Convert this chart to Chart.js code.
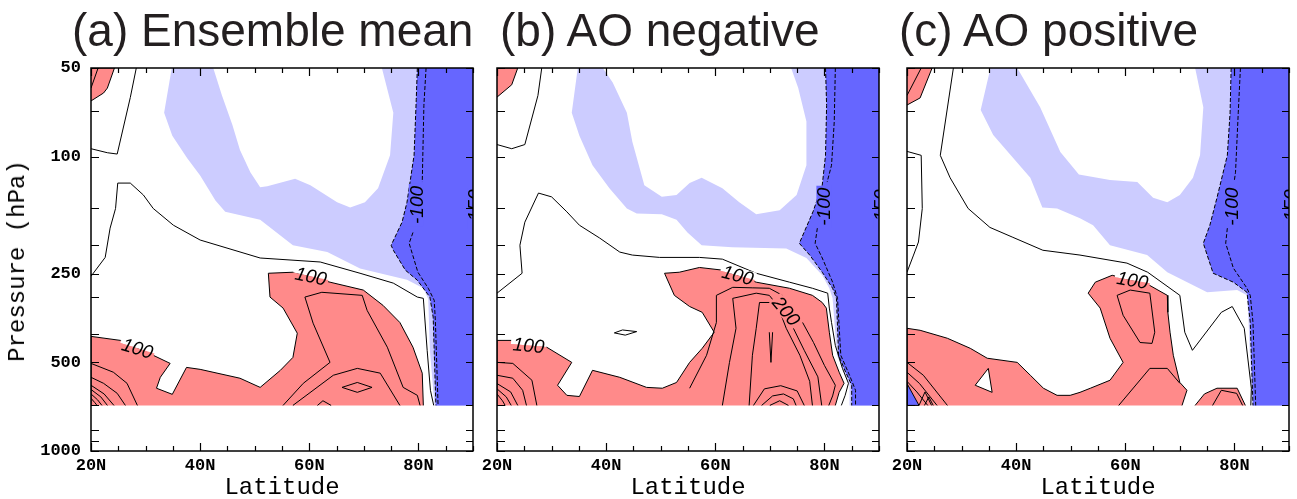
<!DOCTYPE html>
<html><head><meta charset="utf-8">
<script src="https://cdn.jsdelivr.net/npm/chart.js@4/dist/chart.umd.min.js"></script>
<style>
html,body{margin:0;padding:0;background:#fff;overflow:hidden;}
#wrap{position:relative;width:1297px;height:499px;overflow:hidden;}
canvas{position:absolute;top:0;}
.title{position:absolute;top:7px;font-family:"Liberation Sans",Arial,sans-serif;font-size:46px;line-height:46px;color:#231f20;white-space:nowrap;}
.xt{position:absolute;top:476px;font-family:"Liberation Mono",monospace;font-size:24px;line-height:24px;white-space:nowrap;transform:translateX(-50%);}
.yt{position:absolute;left:18px;top:261px;font-family:"Liberation Mono",monospace;font-size:24px;line-height:24px;white-space:nowrap;transform:translate(-50%,-50%) rotate(-90deg);}
</style></head>
<body>
<div id="wrap">
<canvas id="ca" width="485" height="499" style="left:0px"></canvas>
<canvas id="cb" width="485" height="499" style="left:406px"></canvas>
<canvas id="cc" width="481" height="499" style="left:816px"></canvas>
<div class="title" style="left:72px">(a) Ensemble mean</div>
<div class="title" style="left:500px">(b) AO negative</div>
<div class="title" style="left:899px">(c) AO positive</div>
<div class="xt" style="left:282px">Latitude</div>
<div class="xt" style="left:688px">Latitude</div>
<div class="xt" style="left:1098px">Latitude</div>
<div class="yt">Pressure (hPa)</div>
</div>
<script>
// ---------- axes ----------
const latTicks = [20, 40, 60, 80];
const latTickLabels = ['20N', '40N', '60N', '80N'];
const pTicks = [50, 70, 100, 150, 200, 250, 300, 400, 500, 700, 850, 925, 1000];
const pTickLabels = [50, 100, 250, 500, 1000];

// ---------- panel (a) Ensemble mean : [lat, hPa] ----------
const aRedTop = [[20,50],[24.3,50],[23.0,58.5],[22.3,60.8],[20,64.7]];
const aRedTopIn = [[20,58.5],[21.3,50]];
const aRedLow = [[20,700],[20,408],[25.4,421],[31.4,473],[34.5,504],[32.7,562],[32,612],[34.9,642],[37.5,520],[40,528],[47.3,566],[51,608],[54.7,532],[57,481],[57.8,398],[55.2,327],[52.8,300],[52.5,249],[57,247],[63.8,267],[69.9,284],[73.5,320],[76.6,366],[79,444],[80.7,544],[80.9,700]];
const aLightBlue = [[34.8,50],[33.4,71],[34.9,85],[37.6,101],[40,116],[42.8,141],[44.6,154],[51,164],[57,200],[63.3,211],[69.3,240],[77.9,262],[80.9,280],[81.8,305],[82.1,455],[82.95,700],[90,700],[90,50],[73.3,50],[75.4,71],[74.8,99],[72.6,128],[70.2,143],[67.5,149],[65.1,143],[60.2,125],[57.4,119],[52.3,126],[51,127],[49.2,113],[47.3,95],[45.9,78],[44,62],[42.4,50]];
const aDash1 = [[79.8,50],[79.6,64],[79.2,99],[77.9,143],[77,167],[75,200],[75.4,208],[77.6,243],[79.8,263],[82.1,300],[82.7,351],[83.2,700]];
const aDash2a = [[81.4,50],[81,67],[80.7,122]];
const aDash2b = [[79,181],[78.3,197],[79.9,247],[81.8,280],[82.9,308],[83.1,360],[83.6,700]];
const aLine1 = [[20,94],[23,97],[24.8,98],[27.2,63],[28.3,50]];
const aLine2 = [[20,255],[22.6,220],[23.5,175],[24.5,150],[24.9,123],[27.2,123],[29.6,135],[31.4,150],[35.1,171],[40,192],[51,221],[62,228],[69.3,249],[75.4,269],[79.8,300],[80.9,303],[81.6,455],[82.2,622],[82.8,700]];
const aIn1 = [[55.2,700],[58.9,589],[63.8,500],[60.7,368],[59.2,300],[62.3,289],[69.7,296],[70.6,333],[74.3,444],[77.2,608],[79.8,647],[80.3,700]];
const aIn2 = [[57,700],[64.4,553],[68.8,524],[73,544],[76.6,700]];
const aIn3 = [[66,608],[68.8,585],[71.5,608],[68.8,632],[66,608]];
const aIn4 = [[61.5,700],[62.5,675],[64,700]];
const aFan1 = [[20,504],[24.1,540],[26.6,589],[28.5,700]];
const aFan2 = [[20,562],[22.3,589],[24.8,637],[26.3,700]];
const aFan3 = [[20,598],[22.4,640],[24.2,700]];
const aFan4 = [[20,618],[21.8,655],[23,700]];
const aFan5 = [[20,640],[21.2,670],[22,700]];
const aFan6 = [[20,662],[20.7,685],[21.1,700]];
const aLabels = [
  {t:'100', x:28.5, y:448, r:17, bg:'split'},
  {t:'100', x:60.3, y:255, r:12, bg:'split'},
  {t:'-100', x:79.6, y:146, r:-90, bg:'dark'},
  {t:'-150', x:90.4, y:150, r:-90, bg:'dark'}
];

// ---------- panel (b) AO negative ----------
const bRedTop = [[20,50],[23.8,50],[22.7,57],[20,62.8]];
const bRed = [[20,700],[20,421],[22.9,421],[29.1,444],[33.7,500],[31.1,598],[32.8,647],[35.1,653],[37.5,532],[42.5,562],[47.4,608],[50.3,612],[52.9,585],[55.3,500],[57.6,448],[59.8,395],[57.6,338],[55.3,323],[52.5,296],[50.7,249],[53.4,247],[57.1,238],[61.3,243],[67.5,267],[73.6,280],[77.8,296],[79.6,313],[80.35,327],[80.9,395],[81.5,473],[82.7,540],[83.6,589],[82.7,632],[82,700]];
const bLightBlue = [[34.8,50],[33.7,71],[35.1,85],[37.5,107],[40.6,128],[43.8,150],[45.6,156],[50.2,157],[52.9,164],[54.9,181],[57.1,197],[57.5,200],[63.1,203],[73,205],[76.7,221],[79.6,253],[80.9,280],[81.5,303],[82.3,473],[83.6,540],[84.6,598],[84.6,700],[90,700],[90,50],[73.9,50],[75.2,58.5],[76.7,76],[76.7,107],[74.9,135],[71.8,152],[67.5,157],[64.4,143],[61.3,128],[57.5,118],[55.3,123],[52.9,135],[50.2,137],[47,125],[44.8,89],[43.8,71],[41.2,56],[39.4,50]];
const bDash1 = [[80.2,50],[80.4,67],[80.2,99],[79.6,125],[77.9,154],[75.4,197],[77.3,216],[79.6,247],[81.5,280],[82.2,303],[82.6,473],[83.9,540],[85,598],[85,700]];
const bDash2a = [[82,50],[81.8,76],[81.3,107],[80.5,122]];
const bDash2b = [[78.7,175],[78.3,197],[79.6,221],[81.5,267],[82.4,303],[83,473],[84.6,553],[85.7,622],[85.7,700]];
const bLine1 = [[20,91],[22.7,94],[25.1,91],[27.5,62],[28.2,50]];
const bLine2 = [[20,291],[24.6,249],[24.2,200],[25.1,167],[27.6,133],[30,137],[32.8,154],[35.1,171],[38.8,189],[42.5,211],[44.8,216],[49.8,220],[57.1,220],[61.3,223],[67.5,249],[73.6,267],[77.8,280],[80.6,291],[80.9,327],[81.3,366],[82,438],[83.3,524],[84.4,589],[83.8,647],[83.1,700]];
const bLoop = [[41.5,397],[43,388],[45.6,393],[43.5,404],[41.5,397]];
const bIn1a = [[55.3,612],[58.4,473],[60.2,366],[60.2,296],[63.2,278],[69.9,280],[72.3,296]];
const bIn1b = [[76,366],[78,428],[80,512],[82,598],[81.5,650],[80.8,700]];
const bIn2 = [[61.3,700],[62.6,500],[63.8,383],[63.2,303],[67.5,291],[69.9,296],[73.6,360],[76.3,455],[78.8,560],[79.5,700]];
const bIn3 = [[66.2,700],[66.8,473],[67.5,383],[68.1,313],[71.2,313],[73,383],[75.5,473],[77.3,580],[77.8,700]];
const bSpike = [[69.9,395],[70.2,500],[70.5,395]];
const bArc1 = [[67,700],[69,615],[72,600],[75,625],[76.3,700]];
const bArc2 = [[68.5,700],[70.5,650],[72.5,640],[74.3,665],[74.8,700]];
const bArc3 = [[70,700],[71.8,675],[73.4,700]];
const bFan1 = [[20,500],[22.9,504],[26.4,575],[27.3,700]];
const bFan2 = [[20,553],[22.9,566],[24.7,622],[25.4,700]];
const bFan3 = [[20,590],[22.5,630],[23.8,700]];
const bFan4 = [[20,615],[21.7,655],[22.6,700]];
const bFan5 = [[20,640],[21,675],[21.5,700]];
const bLabels = [
  {t:'100', x:25.8, y:438, r:5, bg:'split'},
  {t:'100', x:64.1, y:253, r:15, bg:'split'},
  {t:'200', x:73.0, y:335, r:50, bg:'red'},
  {t:'-100', x:79.9, y:148, r:-90, bg:'dark'},
  {t:'-150', x:90.4, y:150, r:-90, bg:'dark'}
];

// ---------- panel (c) AO positive ----------
const cRedTop = [[20,50],[24.6,50],[22.4,63.2],[20,66.8]];
const cRedTopIn = [[20,62],[22.6,50]];
const cRed = [[20,700],[20,383],[22.4,389],[27.4,414],[31.6,448],[34.7,484],[40.2,500],[42.6,553],[45,612],[47.5,647],[49.9,647],[51.7,632],[53.6,612],[57.2,575],[59.6,500],[57.2,414],[55.4,327],[53.2,291],[54.5,267],[57.6,253],[64.5,274],[67.7,296],[67.8,338],[68.2,395],[68.8,473],[70,585],[71.3,622],[70.4,700]];
const cRed2 = [[72.8,700],[74.5,640],[76.8,612],[80.5,612],[82,700]];
const cHole = [[32.5,598],[34.9,524],[35.6,632],[32.5,598]];
const cDarkCorner = [[20,590],[20,700],[22.2,700],[20,590]];
const cLightBlue = [[35.3,50],[33.5,69.5],[35.8,84.5],[42.6,118],[44.8,149],[47.5,150],[51.7,162],[54.1,171],[57.2,200],[64,216],[67.7,247],[75,289],[80.5,284],[82.3,296],[82.6,366],[83.2,700],[90,700],[90,50],[72.8,50],[74.3,68],[73.7,99],[72.4,118],[70,135],[67.7,143],[65.1,138],[62.2,122],[57.2,120],[51.5,115],[48.1,96.5],[44.4,68],[40.2,50]];
const cDash1 = [[79.4,50],[79.2,71],[78.7,99],[76.8,138],[75.5,171],[74.3,197],[76.1,249],[79.8,267],[82.3,289],[82.9,366],[83.4,700]];
const cDash2a = [[81.1,50],[80.7,71],[80.2,113],[80,120]];
const cDash2b = [[78.7,175],[78.4,197],[79.8,239],[82.3,280],[82.9,296],[83.4,366],[83.9,700]];
const cLine1 = [[20,96],[22.6,99],[22.8,150],[22.1,195],[21.2,216],[20,247]];
const cLine2 = [[28.5,50],[26.1,99],[27.9,118],[31.2,150],[35.2,174],[39.4,188],[44.9,208],[51.7,216],[60.3,230],[64.1,247],[70,296],[70.9,395],[72.3,455],[77.6,338],[79.6,323],[81.8,383],[83.1,612],[83,700]];
const cLoop = [[58.5,296],[60.9,284],[64.5,291],[65.4,395],[64.9,431],[62.7,428],[59.6,346],[58.5,296]];
const cIn1 = [[58.8,700],[64.5,524],[67.7,524],[70,589]];
const cIn2 = [[76,700],[77.6,622],[80.4,637],[81.5,700]];
const cFan1 = [[20,500],[23,553],[27.4,700]];
const cFan2 = [[20,540],[22.3,590],[25.5,700]];
const cFan3 = [[20,580],[21.8,630],[23.8,700]];
const cFan4 = [[22.2,700],[23.3,630],[24.5,700]];
const cFan5 = [[23.2,700],[24,655],[24.8,700]];
const cLabels = [
  {t:'100', x:61.3, y:263, r:10, bg:'split'},
  {t:'-100', x:79.5, y:148, r:-90, bg:'dark'},
  {t:'-150', x:90.4, y:150, r:-90, bg:'dark'}
];

// ---------- styling ----------
const RED = '#ff8a8a', LBLUE = '#ccccff', DBLUE = '#6666ff';
const BG = {red: RED, dark: DBLUE, white: '#ffffff'};
const MONO = '"Liberation Mono", "DejaVu Sans Mono", monospace';

function toXY(a) { return a.map(p => ({x: p[0], y: p[1]})); }
function area(a, color, order, edge) {
  return {data: toXY(a), showLine: true, fill: 'shape', backgroundColor: color,
    borderColor: edge ? '#000' : 'rgba(0,0,0,0)', borderWidth: edge ? 1 : 0,
    pointRadius: 0, tension: 0, order: order};
}
function contour(a, dashed) {
  return {data: toXY(a), showLine: true, fill: false, borderColor: '#000', borderWidth: 1,
    borderDash: dashed ? [4, 2] : [], pointRadius: 0, tension: 0, order: 1};
}

const panels = [
  {id: 'ca', showY: true, right: 12, lblue: aLightBlue, dblue: aDash1, dextra: [],
   reds: [aRedTop, aRedLow], holes: [],
   solid: [aRedTopIn, aLine1, aLine2, aIn1, aIn2, aIn3, aIn4, aFan1, aFan2, aFan3, aFan4, aFan5, aFan6],
   dashed: [aDash1, aDash2a, aDash2b], labels: aLabels},
  {id: 'cb', showY: false, right: 12, lblue: bLightBlue, dblue: bDash1, dextra: [],
   reds: [bRedTop, bRed], holes: [],
   solid: [bLine1, bLine2, bLoop, bIn1a, bIn1b, bIn2, bIn3, bSpike, bArc1, bArc2, bArc3, bFan1, bFan2, bFan3, bFan4, bFan5],
   dashed: [bDash1, bDash2a, bDash2b], labels: bLabels},
  {id: 'cc', showY: false, right: 8, lblue: cLightBlue, dblue: cDash1, dextra: [cDarkCorner],
   reds: [cRedTop, cRed, cRed2], holes: [cHole],
   solid: [cRedTopIn, cLine1, cLine2, cLoop, cIn1, cIn2, cFan1, cFan2, cFan3, cFan4, cFan5],
   dashed: [cDash1, cDash2a, cDash2b], labels: cLabels}
];

function makeDecor(panel) {
  return {
    id: 'decor_' + panel.id,
    afterDatasetsDraw(chart) {
      const ctx = chart.ctx, a = chart.chartArea, xs = chart.scales.x, ys = chart.scales.y;
      // contour labels
      ctx.save();
      ctx.beginPath(); ctx.rect(a.left, a.top, a.right - a.left, a.bottom - a.top); ctx.clip();
      ctx.font = 'italic 19px "Liberation Sans", Arial, sans-serif';
      for (const L of panel.labels) {
        const px = xs.getPixelForValue(L.x), py = ys.getPixelForValue(L.y);
        ctx.save(); ctx.translate(px, py); ctx.rotate(L.r * Math.PI / 180);
        const w = ctx.measureText(L.t).width + 4, h = 15;
        if (L.bg === 'split') {
          ctx.fillStyle = '#fff'; ctx.fillRect(-w / 2, -h / 2, w, h / 2);
          ctx.fillStyle = RED; ctx.fillRect(-w / 2, 0, w, h / 2);
        } else if (L.bg) {
          ctx.fillStyle = BG[L.bg]; ctx.fillRect(-w / 2, -h / 2, w, h);
        }
        ctx.fillStyle = '#000'; ctx.textAlign = 'center'; ctx.textBaseline = 'middle';
        ctx.fillText(L.t, 0, 1);
        ctx.restore();
      }
      ctx.restore();
      // frame and inward ticks
      ctx.save();
      ctx.strokeStyle = '#000';
      ctx.lineWidth = 1.5;
      ctx.strokeRect(a.left, a.top, a.right - a.left, a.bottom - a.top);
      ctx.lineWidth = 1.2;
      ctx.beginPath();
      for (let v = 20; v <= 90; v += 5) {
        const px = Math.round(xs.getPixelForValue(v)) + 0.5;
        const len = (v % 20 === 0) ? 8 : 5;
        ctx.moveTo(px, a.bottom); ctx.lineTo(px, a.bottom - len);
        ctx.moveTo(px, a.top); ctx.lineTo(px, a.top + len);
      }
      for (const p of pTicks) {
        const py = Math.round(ys.getPixelForValue(p)) + 0.5;
        ctx.moveTo(a.left, py); ctx.lineTo(a.left + 8, py);
        ctx.moveTo(a.right, py); ctx.lineTo(a.right - 7, py);
      }
      ctx.stroke();
      ctx.restore();
    }
  };
}

function build(panel) {
  const ds = [];
  ds.push(area(panel.lblue, LBLUE, 50, false));
  ds.push(area(panel.dblue.concat([[90, 700], [90, 50]]), DBLUE, 40, false));
  panel.reds.forEach(r => ds.push(area(r, RED, 30, true)));
  panel.dextra.forEach(d => ds.push(area(d, DBLUE, 25, true)));
  panel.holes.forEach(h => ds.push(area(h, '#ffffff', 20, true)));
  panel.solid.forEach(l => ds.push(contour(l, false)));
  panel.dashed.forEach(l => ds.push(contour(l, true)));

  new Chart(document.getElementById(panel.id), {
    type: 'scatter',
    data: {datasets: ds},
    options: {
      responsive: false, animation: false, devicePixelRatio: 1, events: [],
      layout: {padding: {top: 68, right: panel.right, left: 0, bottom: 0}},
      plugins: {legend: {display: false}, tooltip: {enabled: false}},
      scales: {
        x: {type: 'linear', min: 20, max: 90,
          afterBuildTicks: s => { s.ticks = latTicks.map(v => ({value: v})); },
          afterFit: s => { s.height = 48; },
          ticks: {callback: v => latTickLabels[latTicks.indexOf(v)], autoSkip: false, maxRotation: 0,
            padding: 5, color: '#000', font: {family: MONO, size: 17, weight: 'bold'}},
          grid: {display: false, drawTicks: false}, border: {display: false}},
        y: {type: 'logarithmic', reverse: true, min: 50, max: 1000,
          afterBuildTicks: s => { s.ticks = pTicks.map(v => ({value: v})); },
          afterFit: s => { s.width = 91; },
          ticks: {display: panel.showY, callback: v => pTickLabels.includes(v) ? String(v) : '',
            autoSkip: false, maxRotation: 0, padding: 10, color: '#000', font: {family: MONO, size: 17, weight: 'bold'}},
          grid: {display: false, drawTicks: false}, border: {display: false}}
      }
    },
    plugins: [makeDecor(panel)]
  });
}
panels.forEach(build);
</script>
</body></html>
